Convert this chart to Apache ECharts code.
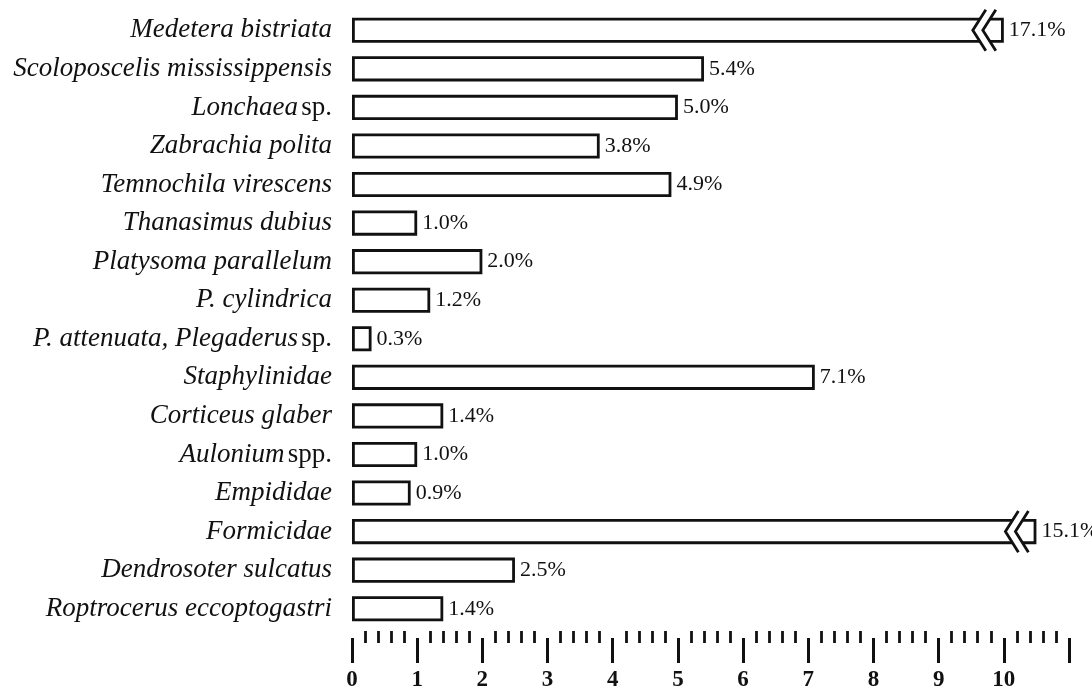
<!DOCTYPE html>
<html>
<head>
<meta charset="utf-8">
<script src="https://cdn.jsdelivr.net/npm/echarts@6/dist/echarts.min.js"></script>
<style>
  html, body { margin: 0; padding: 0; background: #fff; }
  #chart { width: 1092px; height: 692px; }
</style>
</head>
<body>
<div id="chart"></div>
<script>
// categories, top to bottom
const categories = [
  'Medetera bistriata',
  'Scoloposcelis mississippensis',
  'Lonchaea sp.',
  'Zabrachia polita',
  'Temnochila virescens',
  'Thanasimus dubius',
  'Platysoma parallelum',
  'P. cylindrica',
  'P. attenuata, Plegaderus sp.',
  'Staphylinidae',
  'Corticeus glaber',
  'Aulonium spp.',
  'Empididae',
  'Formicidae',
  'Dendrosoter sulcatus',
  'Roptrocerus eccoptogastri'
];
// percent of individuals
const shares = [17.1, 5.4, 5.0, 3.8, 4.9, 1.0, 2.0, 1.2, 0.3, 7.1, 1.4, 1.0, 0.9, 15.1, 2.5, 1.4];
// bars that run off the scale and the length they are drawn to
const brokenBars = [0, 13];
const brokenBarLength = [10.0, 10.5];
const tickValues = [0, 1, 2, 3, 4, 5, 6, 7, 8, 9, 10];

const INK = '#111';
const SERIF = '"Liberation Serif", "DejaVu Serif", serif';

let chart = echarts.init(document.getElementById('chart'));

// length drawn for every bar
let shown = shares.map((v, i) => {
  let k = brokenBars.indexOf(i);
  return k >= 0 ? brokenBarLength[k] : v;
});

/**
 * category label: species name italic, "sp." / "spp." upright
 */
function catLabel(name) {
  let m = name.match(/^(.*) (spp?\.)$/);
  if (m) return '{i|' + m[1] + '} {n|' + m[2] + '}';
  return '{i|' + name + '}';
}

/**
 * double chevron break on a truncated bar
 */
function renderBreak(params, api) {
  let end = api.coord([api.value(0), api.value(1)]);
  let band = api.size([0, 1])[1];
  let h = band * 0.65;
  let cy = end[1];
  let top = cy - h / 2 - 8;
  let bot = cy + h / 2 + 8;
  let t1 = end[0] - 31;
  let t2 = end[0] - 21;
  let w = 13;
  let line = { stroke: INK, lineWidth: 2.8, fill: null };
  return {
    type: 'group',
    children: [
      {
        type: 'polygon',
        shape: { points: [[t1, cy], [t1 + w, top], [t2 + w, top], [t2, cy], [t2 + w, bot], [t1 + w, bot]] },
        style: { fill: '#fff', stroke: null }
      },
      { type: 'polyline', shape: { points: [[t1 + w, top], [t1, cy], [t1 + w, bot]] }, style: line },
      { type: 'polyline', shape: { points: [[t2 + w, top], [t2, cy], [t2 + w, bot]] }, style: line }
    ]
  };
}

let option = {
  backgroundColor: '#fff',
  animation: false,
  grid: { left: 352, right: 23, top: 11, bottom: 62, containLabel: false },
  xAxis: [
    {
      type: 'value', min: 0, max: 11, interval: 1, position: 'bottom', offset: 10,
      axisLine: { show: false },
      axisTick: { show: true, length: 25, lineStyle: { color: INK, width: 3 } },
      splitLine: { show: false },
      axisLabel: {
        margin: 31, color: INK, fontFamily: SERIF, fontWeight: 'bold', fontSize: 23,
        formatter: (v) => tickValues.indexOf(v) >= 0 ? String(v) : ''
      }
    },
    {
      type: 'value', min: 0, max: 11, interval: 1, position: 'bottom', offset: 3,
      axisLine: { show: false },
      axisTick: { show: false },
      axisLabel: { show: false },
      splitLine: { show: false },
      minorTick: { show: true, splitNumber: 5, length: 12, lineStyle: { color: INK, width: 2.8 } }
    }
  ],
  yAxis: {
    type: 'category', inverse: true, data: categories,
    axisLine: { show: false }, axisTick: { show: false },
    axisLabel: {
      margin: 20, color: INK, align: 'right',
      formatter: catLabel,
      rich: {
        i: { fontFamily: SERIF, fontStyle: 'italic', fontSize: 27, color: INK },
        n: { fontFamily: SERIF, fontSize: 27, color: INK }
      }
    }
  },
  series: [
    {
      type: 'bar', data: shown, barCategoryGap: '35%',
      itemStyle: { color: '#fff', borderColor: INK, borderWidth: 2.8 },
      label: {
        show: true, position: 'right', distance: 5, color: INK,
        fontFamily: SERIF, fontSize: 22,
        formatter: (p) => shares[p.dataIndex].toFixed(1) + '%'
      }
    },
    {
      type: 'custom', z: 5,
      data: brokenBars.map((idx, k) => [brokenBarLength[k], idx]),
      encode: { x: 0, y: 1 },
      renderItem: renderBreak
    }
  ]
};

chart.setOption(option);
</script>
</body>
</html>
